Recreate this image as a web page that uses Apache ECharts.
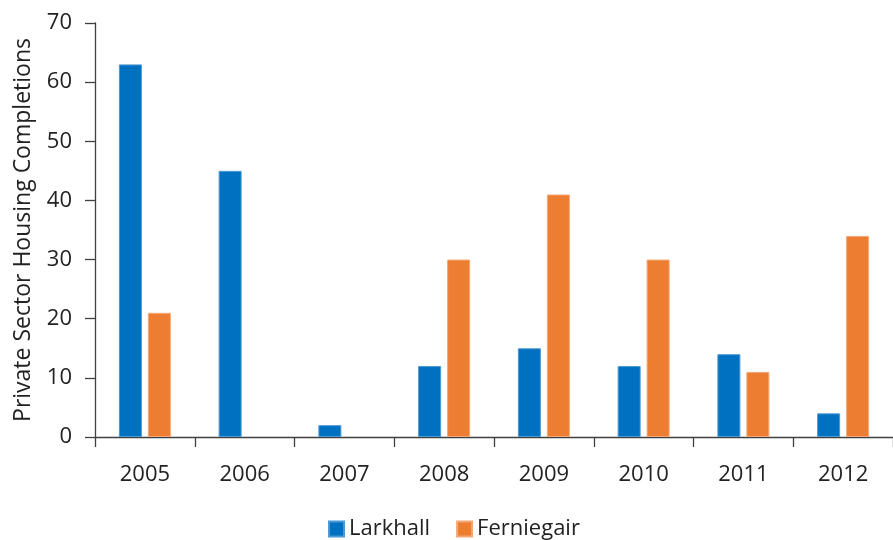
<!DOCTYPE html>
<html>
<head>
<meta charset="utf-8">
<script src="https://cdn.jsdelivr.net/npm/echarts@6/dist/echarts.min.js"></script>
<style>html,body{margin:0;padding:0;background:#fff}#c{width:893px;height:540px}</style>
</head>
<body>
<div id="c"></div>
<script>
const categories = ['2005','2006','2007','2008','2009','2010','2011','2012'];
const larkhall = [63, 45, 2, 12, 15, 12, 14, 4];
const ferniegair = [21, 0, 0, 30, 41, 30, 11, 34];
const yTicks = {min: 0, max: 70, interval: 10};

// zero values are not drawn as bars in the reference
const noZero = arr => arr.map(v => (v === 0 ? '-' : v));

const FONT = 'Open Sans';
const chart = echarts.init(document.getElementById('c'));
chart.setOption({
  animation: false,
  textStyle: {fontFamily: FONT},
  grid: {left: 95, top: 23, width: 805, bottom: 103, containLabel: false},
  legend: {
    left: 323, top: 513,
    itemWidth: 15, itemHeight: 15, itemGap: 26,
    icon: 'rect',
    textStyle: {fontFamily: FONT, fontSize: 22, color: '#222'},
    data: ['Larkhall', 'Ferniegair']
  },
  xAxis: {
    type: 'category', data: categories,
    axisLine: {lineStyle: {color: '#404040', width: 1.3}},
    axisTick: {show: true, length: 10, lineStyle: {color: '#404040', width: 1.3}},
    axisLabel: {fontFamily: FONT, fontSize: 22, color: '#222', margin: 27}
  },
  yAxis: {
    type: 'value', min: yTicks.min, max: yTicks.max, interval: yTicks.interval,
    name: 'Private Sector Housing Completions',
    nameLocation: 'middle', nameGap: 60,
    nameTextStyle: {fontFamily: FONT, fontSize: 23, color: '#222'},
    splitLine: {show: false},
    axisLine: {show: true, lineStyle: {color: '#404040', width: 1.3}},
    axisTick: {show: true, length: 10, lineStyle: {color: '#404040', width: 1.3}},
    axisLabel: {fontFamily: FONT, fontSize: 22, color: '#222', margin: 23}
  },
  series: [
    {name: 'Larkhall', type: 'bar', data: noZero(larkhall), barWidth: 23, barGap: '26%',
     itemStyle: {color: '#0070C0', borderColor: '#4a9ad6', borderWidth: 1}},
    {name: 'Ferniegair', type: 'bar', data: noZero(ferniegair), barWidth: 23,
     itemStyle: {color: '#ED7D31', borderColor: '#f4a877', borderWidth: 1}}
  ]
});
</script>
</body>
</html>
